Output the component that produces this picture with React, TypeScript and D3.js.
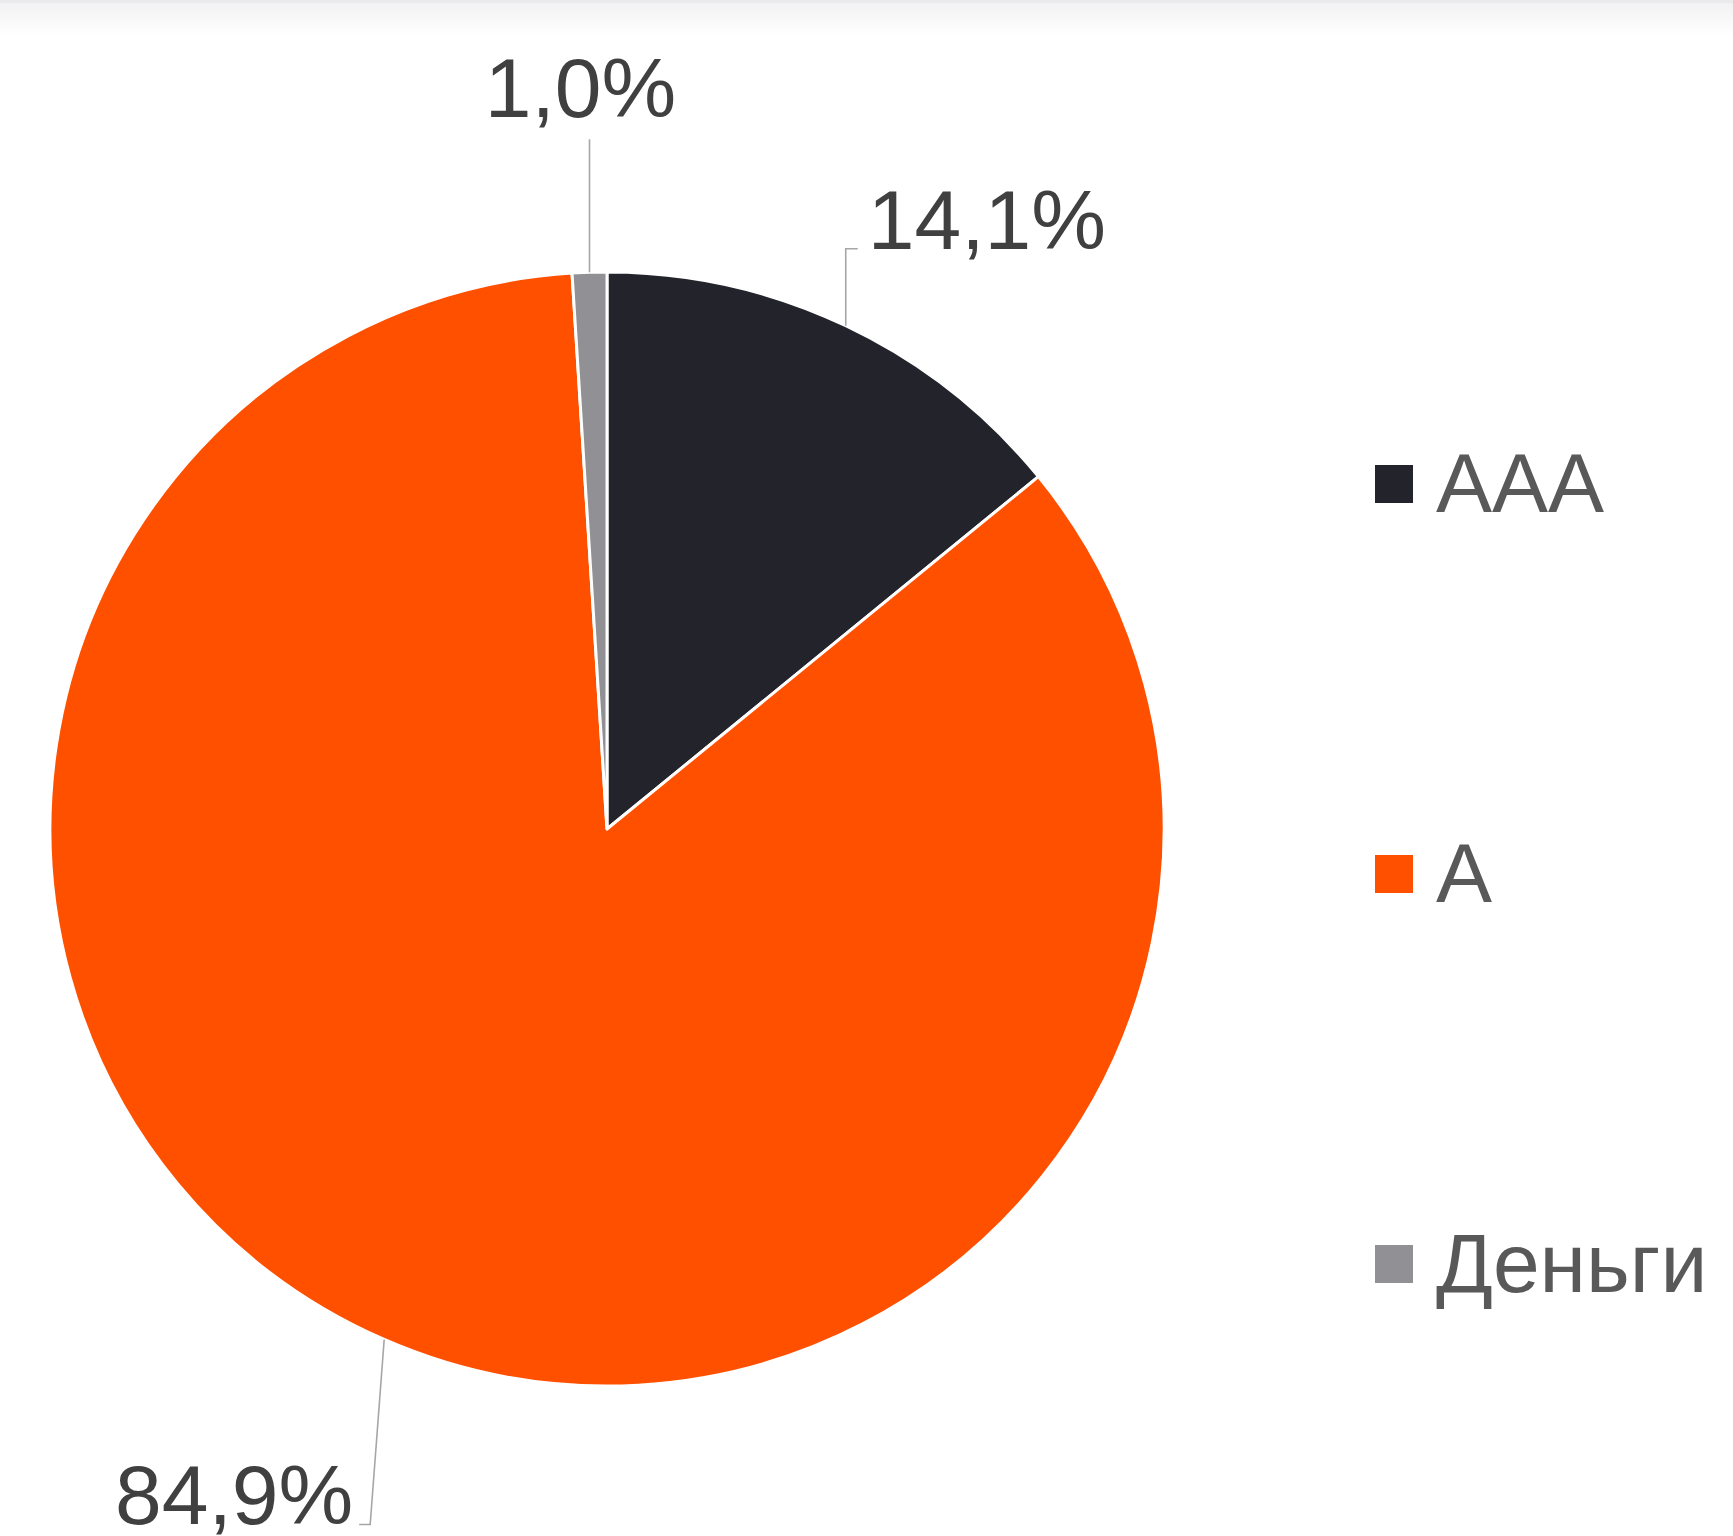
import React from "react";
import * as d3 from "d3";

const categories = ["AAA", "A", "Деньги"];
const shares = [14.1, 84.9, 1.0];
const valueLabels = ["14,1%", "84,9%", "1,0%"];
const colors = ["#22232b", "#ff5000", "#909095"];

const W = 1733;
const H = 1536;
const cx = 607;
const cy = 829;
const R = 557;

export default function App() {
  const pie = d3.pie<number>().sort(null).value((d) => d);
  const arcs = pie(shares);
  const arcGen = d3.arc<d3.PieArcDatum<number>>().innerRadius(0).outerRadius(R);

  const edge = (a: d3.PieArcDatum<number>) => {
    const m = (a.startAngle + a.endAngle) / 2;
    return [Math.sin(m) * R, -Math.cos(m) * R];
  };

  // label layouts (leader line geometry), relative to the pie centre
  const labelLayouts = [
    // AAA: up then right
    (p: number[]) => ({
      path: `M${p[0]},${p[1]}V${p[1] - 77}H${p[0] + 12}`,
      tx: p[0] + 22,
      ty: p[1] - 77,
      anchor: "start",
    }),
    // A: down-left then left
    (p: number[]) => ({
      path: `M${p[0]},${p[1]}L${p[0] - 14},${p[1] + 185}H${p[0] - 25}`,
      tx: p[0] - 31,
      ty: p[1] + 185,
      anchor: "end",
    }),
    // Деньги: straight up
    (p: number[]) => ({
      path: `M${p[0]},${p[1]}V${p[1] - 133}`,
      tx: p[0] - 9,
      ty: p[1] - 155,
      anchor: "middle",
    }),
  ];

  const legendY = d3.scalePoint<string>().domain(categories).range([484, 1264]);

  return (
    <svg
      width={W}
      height={H}
      style={{ position: "fixed", left: 0, top: 0, display: "block", background: "#fff" }}
      fontFamily="'Liberation Sans', Arial, sans-serif"
    >
      <defs>
        <linearGradient id="topShade" x1="0" y1="0" x2="0" y2="1">
          <stop offset="0" stopColor="#eaeaea" />
          <stop offset="0.09" stopColor="#ececec" />
          <stop offset="0.1" stopColor="#f3f3f5" />
          <stop offset="0.32" stopColor="#f5f5f6" />
          <stop offset="1" stopColor="#ffffff" />
        </linearGradient>
      </defs>
      <rect x={0} y={0} width={W} height={36} fill="url(#topShade)" />
      <g transform={`translate(${cx},${cy})`}>
        {arcs.map((a, i) => (
          <path
            key={categories[i]}
            d={arcGen(a) || ""}
            fill={colors[i]}
            stroke="#ffffff"
            strokeWidth={3}
            strokeLinejoin="round"
          />
        ))}
        {arcs.map((a, i) => {
          const p = edge(a);
          const L = labelLayouts[i](p);
          return (
            <g key={"lbl" + i}>
              <path d={L.path} fill="none" stroke="#a6a6a6" strokeWidth={1.6} />
              <text
                x={L.tx}
                y={L.ty}
                textAnchor={L.anchor as any}
                fontSize={84}
                fill="#404040"
              >
                {valueLabels[i]}
              </text>
            </g>
          );
        })}
      </g>
      <g>
        {categories.map((c, i) => {
          const y = legendY(c) as number;
          return (
            <g key={"leg" + c}>
              <rect x={1375} y={y - 19} width={38} height={38} fill={colors[i]} />
              <text x={1436} y={y + 28} fontSize={84} fill="#595959">
                {c}
              </text>
            </g>
          );
        })}
      </g>
    </svg>
  );
}
